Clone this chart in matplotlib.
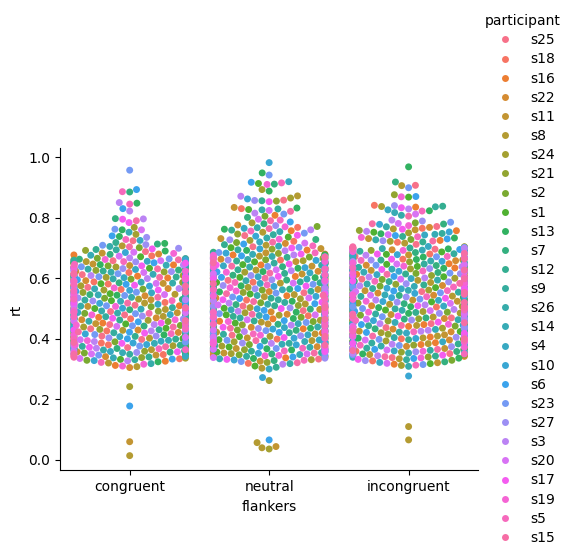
import matplotlib
matplotlib.use("Agg")
import matplotlib.pyplot as plt
import pandas as pd
import seaborn as sns

participants = ["s25", "s18", "s16", "s22", "s11", "s8", "s24", "s21", "s2", "s1",
                "s13", "s7", "s12", "s9", "s26", "s14", "s4", "s10", "s6", "s23",
                "s27", "s3", "s20", "s17", "s19", "s5", "s15"]
flankers = ["congruent", "neutral", "incongruent"]

# reaction times in ms (per participant)
congruent = {
    "s25": [352, 371, 398, 409, 433, 447, 479, 490, 511, 538, 551, 570, 596, 612, 639, 658, 688, 724, 343],
    "s18": [348, 380, 386, 417, 426, 459, 466, 499, 520, 527, 563, 581, 588, 619, 631, 662, 334, 674],
    "s16": [361, 367, 391, 404, 441, 452, 471, 487, 509, 533, 548, 577, 601, 607, 644, 650, 312, 326, 677],
    "s22": [357, 374, 394, 421, 429, 463, 469, 494, 515, 542, 559, 566, 592, 623, 628, 664, 305, 680, 341],
    "s11": [346, 383, 389, 412, 437, 450, 482, 486, 507, 529, 556, 583, 599, 610, 642, 647, 60, 683],
    "s8": [364, 369, 402, 415, 428, 455, 474, 497, 518, 536, 547, 569, 590, 616, 635, 655, 14, 320, 707, 308],
    "s24": [350, 377, 387, 410, 439, 461, 468, 502, 513, 531, 561, 575, 603, 609, 637, 661, 242, 745, 768, 336],
    "s21": [359, 366, 396, 419, 431, 446, 477, 491, 523, 540, 553, 579, 586, 621, 626, 652, 338, 692],
    "s2": [353, 382, 390, 406, 444, 457, 484, 488, 506, 534, 564, 573, 597, 604, 641, 666, 701, 329],
    "s1": [362, 372, 401, 423, 435, 449, 470, 500, 516, 526, 549, 582, 594, 614, 633, 649, 332, 671],
    "s13": [347, 378, 393, 413, 427, 464, 481, 493, 510, 544, 558, 568, 600, 618, 645, 657, 690, 715, 738, 760, 848, 324],
    "s7": [356, 368, 384, 418, 442, 453, 467, 496, 522, 530, 546, 585, 589, 606, 627, 663, 885, 797, 713, 679],
    "s12": [360, 379, 399, 408, 430, 462, 476, 489, 512, 541, 562, 571, 604, 624, 640, 653, 340, 695, 718],
    "s9": [349, 375, 388, 420, 438, 448, 473, 503, 519, 528, 555, 578, 591, 611, 636, 659, 331, 694],
    "s26": [363, 370, 397, 411, 434, 458, 485, 492, 508, 537, 550, 584, 598, 620, 630, 665, 705, 318],
    "s14": [354, 385, 395, 424, 426, 451, 472, 498, 524, 545, 565, 567, 587, 613, 643, 648, 337, 676, 752],
    "s4": [358, 373, 392, 407, 440, 460, 480, 487, 514, 532, 552, 576, 602, 617, 629, 656, 725, 342],
    "s10": [351, 381, 386, 416, 436, 445, 478, 501, 517, 539, 560, 574, 593, 608, 646, 660, 328, 685],
    "s6": [365, 366, 400, 422, 432, 456, 466, 495, 521, 527, 557, 580, 595, 625, 634, 651, 178, 893, 740, 830, 333],
    "s23": [346, 376, 389, 414, 443, 454, 483, 490, 509, 543, 554, 572, 605, 615, 638, 664, 957, 762, 709],
    "s27": [355, 384, 403, 409, 428, 465, 475, 497, 525, 535, 548, 586, 588, 622, 632, 654, 711, 699, 735],
    "s3": [361, 369, 391, 426, 437, 447, 471, 504, 515, 529, 566, 570, 599, 609, 644, 667, 850, 822, 796, 327],
    "s20": [350, 378, 397, 405, 441, 459, 486, 488, 510, 546, 553, 583, 592, 619, 628, 658, 760, 686, 335, 673],
    "s17": [357, 372, 385, 419, 429, 452, 468, 499, 520, 533, 561, 577, 601, 605, 641, 650, 795, 697, 784],
    "s19": [353, 380, 394, 412, 445, 463, 479, 493, 507, 540, 549, 568, 596, 623, 636, 662, 682, 316, 310],
    "s5": [364, 367, 400, 417, 433, 448, 473, 487, 526, 531, 558, 579, 590, 612, 646, 655, 886, 845, 728, 322],
    "s15": [348, 374, 388, 423, 439, 460, 484, 502, 518, 537, 555, 574, 603, 616, 631, 661, 790, 704, 339],
}

neutral = {
    "s25": [349, 371, 388, 412, 427, 451, 470, 493, 508, 531, 552, 568, 593, 611, 629, 652, 671, 704, 741, 858, 333],
    "s18": [358, 366, 399, 406, 440, 447, 476, 487, 517, 528, 560, 577, 587, 619, 636, 660, 680, 722, 768, 830, 319],
    "s16": [346, 379, 392, 419, 433, 458, 466, 500, 512, 542, 549, 581, 601, 606, 644, 649, 677, 693, 757, 808, 337],
    "s22": [362, 374, 386, 410, 438, 463, 481, 489, 521, 535, 556, 566, 596, 623, 631, 663, 668, 715, 776, 341],
    "s11": [353, 368, 403, 416, 426, 449, 473, 497, 507, 527, 563, 574, 589, 614, 640, 655, 684, 44, 834, 731, 698, 326],
    "s8": [360, 383, 394, 422, 444, 455, 468, 503, 515, 539, 546, 584, 598, 608, 627, 647, 673, 57, 40, 872, 709, 752, 303, 339],
    "s24": [351, 376, 390, 408, 431, 461, 478, 486, 523, 532, 558, 570, 604, 620, 642, 658, 666, 36, 262, 893, 865, 725, 783, 331],
    "s21": [364, 369, 401, 414, 436, 446, 484, 495, 510, 544, 553, 579, 591, 609, 634, 651, 682, 855, 696, 746, 322],
    "s2": [347, 381, 387, 424, 429, 457, 471, 491, 519, 526, 561, 567, 599, 617, 626, 661, 670, 805, 718, 771, 343],
    "s1": [356, 373, 397, 407, 442, 452, 479, 501, 506, 537, 548, 582, 586, 603, 645, 654, 678, 913, 827, 736, 701, 310],
    "s13": [363, 367, 389, 418, 435, 464, 467, 488, 524, 530, 555, 575, 602, 622, 633, 648, 675, 948, 888, 832, 762, 692, 335],
    "s7": [350, 384, 404, 411, 428, 448, 482, 498, 513, 541, 564, 569, 594, 610, 638, 664, 686, 911, 801, 728, 780, 328],
    "s12": [359, 370, 393, 420, 443, 459, 474, 490, 509, 534, 547, 585, 588, 616, 628, 657, 669, 856, 711, 759, 306],
    "s9": [354, 378, 385, 415, 430, 453, 469, 504, 520, 529, 557, 572, 600, 605, 643, 650, 681, 829, 694, 744, 342],
    "s26": [361, 372, 400, 409, 439, 462, 485, 492, 514, 543, 550, 578, 592, 624, 637, 662, 672, 826, 733, 767, 318],
    "s14": [348, 382, 391, 423, 425, 450, 477, 496, 505, 536, 562, 571, 597, 612, 630, 653, 679, 706, 754, 334],
    "s4": [357, 365, 396, 413, 437, 456, 466, 487, 522, 527, 554, 583, 605, 618, 641, 646, 667, 919, 720, 765, 300],
    "s10": [352, 380, 402, 405, 432, 445, 480, 499, 511, 540, 545, 573, 590, 607, 635, 659, 683, 982, 862, 272, 739, 697, 330],
    "s6": [365, 375, 388, 421, 441, 460, 472, 494, 516, 533, 559, 566, 603, 621, 625, 656, 674, 66, 917, 713, 786, 340],
    "s23": [346, 368, 395, 417, 427, 454, 483, 489, 525, 538, 551, 580, 587, 613, 639, 649, 685, 941, 812, 749, 702, 325],
    "s27": [355, 377, 386, 410, 434, 447, 468, 502, 508, 545, 565, 576, 595, 609, 632, 660, 671, 857, 727, 774, 336],
    "s3": [362, 385, 398, 424, 445, 458, 475, 491, 518, 526, 552, 567, 604, 625, 646, 652, 677, 871, 815, 691, 760, 316],
    "s20": [350, 366, 392, 406, 429, 463, 479, 485, 512, 535, 560, 584, 589, 615, 628, 664, 668, 824, 795, 716, 338],
    "s17": [358, 374, 404, 419, 438, 451, 470, 500, 521, 529, 547, 574, 598, 606, 644, 647, 680, 853, 742, 700, 332],
    "s19": [345, 383, 389, 412, 426, 457, 486, 495, 507, 541, 558, 569, 593, 620, 636, 655, 676, 910, 729, 770, 344],
    "s5": [360, 369, 401, 416, 443, 449, 473, 488, 514, 532, 563, 578, 586, 611, 630, 663, 684, 915, 707, 756, 792, 329],
    "s15": [353, 379, 394, 408, 435, 464, 481, 503, 523, 544, 549, 582, 600, 617, 640, 651, 670, 821, 719, 764, 790, 321],
}

incongruent = {
    "s25": [351, 372, 391, 410, 437, 450, 469, 498, 512, 527, 556, 570, 597, 608, 640, 653, 672, 696, 907, 771, 712, 338],
    "s18": [359, 366, 400, 418, 428, 461, 476, 489, 505, 539, 548, 583, 588, 621, 629, 663, 680, 690, 841, 765, 719, 327],
    "s16": [346, 381, 387, 406, 441, 447, 483, 493, 520, 532, 563, 567, 602, 613, 634, 648, 686, 701, 835, 757, 725, 316],
    "s22": [363, 375, 396, 423, 432, 456, 467, 502, 509, 544, 551, 576, 591, 606, 643, 658, 667, 694, 768, 342],
    "s11": [354, 368, 388, 413, 425, 464, 480, 486, 524, 528, 559, 572, 604, 618, 626, 661, 677, 704, 760, 731, 321],
    "s8": [348, 384, 403, 409, 444, 453, 472, 497, 514, 541, 545, 586, 593, 611, 637, 649, 682, 688, 110, 66, 906, 763, 716, 334],
    "s24": [361, 370, 393, 420, 435, 448, 485, 490, 507, 535, 561, 568, 600, 624, 631, 665, 669, 699, 837, 750, 722, 312],
    "s21": [356, 379, 385, 415, 430, 459, 466, 501, 518, 530, 553, 580, 587, 609, 645, 654, 684, 692, 876, 758, 340],
    "s2": [347, 373, 399, 407, 442, 462, 478, 488, 511, 546, 564, 574, 596, 616, 628, 659, 673, 703, 783, 728, 329],
    "s1": [364, 386, 392, 424, 427, 452, 471, 495, 522, 526, 549, 569, 605, 622, 639, 646, 679, 687, 868, 752, 318],
    "s13": [350, 367, 402, 411, 439, 446, 484, 503, 506, 537, 557, 584, 590, 607, 633, 662, 670, 697, 968, 823, 747, 733, 336],
    "s7": [358, 377, 389, 417, 433, 465, 469, 492, 516, 543, 546, 571, 598, 619, 642, 651, 685, 691, 918, 779, 324],
    "s12": [345, 383, 397, 405, 443, 457, 474, 487, 525, 529, 562, 578, 589, 614, 627, 660, 675, 700, 838, 738, 720, 343],
    "s9": [362, 369, 386, 422, 426, 449, 482, 499, 510, 540, 554, 566, 603, 625, 636, 647, 681, 689, 836, 748, 331],
    "s26": [353, 376, 404, 414, 438, 463, 468, 494, 519, 533, 547, 581, 594, 610, 644, 657, 668, 698, 808, 770, 727, 309],
    "s14": [349, 385, 394, 408, 431, 454, 477, 504, 513, 545, 560, 573, 585, 620, 630, 664, 683, 693, 817, 745, 339],
    "s4": [360, 371, 390, 419, 445, 451, 486, 489, 508, 527, 565, 585, 599, 612, 641, 652, 674, 705, 826, 743, 322],
    "s10": [355, 380, 401, 412, 429, 460, 470, 496, 523, 536, 550, 567, 592, 623, 635, 656, 678, 686, 778, 753, 277],
    "s6": [365, 366, 387, 421, 436, 447, 479, 491, 515, 542, 558, 577, 606, 608, 626, 666, 687, 695, 870, 741, 730, 335],
    "s23": [347, 378, 398, 410, 440, 458, 473, 500, 506, 531, 552, 570, 595, 617, 643, 649, 671, 702, 899, 785, 315],
    "s27": [357, 374, 405, 416, 434, 462, 484, 485, 521, 538, 563, 582, 588, 615, 632, 660, 685, 690, 840, 789, 724, 328],
    "s3": [352, 382, 391, 425, 428, 450, 467, 497, 512, 528, 548, 575, 601, 604, 638, 655, 676, 699, 829, 755, 792, 344],
    "s20": [363, 368, 396, 407, 442, 465, 481, 493, 517, 544, 556, 568, 597, 621, 647, 645, 669, 694, 812, 781, 744, 319],
    "s17": [346, 385, 388, 418, 430, 455, 475, 502, 509, 534, 561, 579, 591, 609, 629, 663, 680, 701, 833, 762, 332],
    "s19": [359, 372, 403, 411, 437, 448, 468, 488, 524, 530, 545, 586, 604, 618, 640, 650, 688, 692, 869, 774, 735, 337],
    "s5": [350, 379, 393, 423, 426, 461, 482, 495, 507, 539, 559, 571, 590, 624, 634, 659, 672, 697, 822, 737, 313],
    "s15": [361, 365, 399, 409, 444, 453, 476, 504, 520, 547, 553, 583, 598, 613, 627, 664, 682, 704, 805, 780, 723, 341],
}

rows = []
for cond, table in zip(flankers, [congruent, neutral, incongruent]):
    for p in participants:
        for ms in table[p]:
            rows.append({"participant": p, "flankers": cond, "rt": ms / 1000})
df = pd.DataFrame(rows)

fig = plt.figure(figsize=(5.71, 5.59), dpi=100)
ax = fig.add_axes([0.105, 0.1587, 0.7327, 0.5766])

sns.swarmplot(data=df, x="flankers", y="rt", hue="participant",
              order=flankers, hue_order=participants, ax=ax)
sns.despine(ax=ax)

handles, labels = ax.get_legend_handles_labels()
if ax.get_legend() is not None:
    ax.get_legend().remove()
fig.legend(handles, labels, title="participant", loc="center right",
           bbox_to_anchor=(1.004, 0.5), frameon=False, labelspacing=0.37)

fig.savefig("out.png", dpi=100)
